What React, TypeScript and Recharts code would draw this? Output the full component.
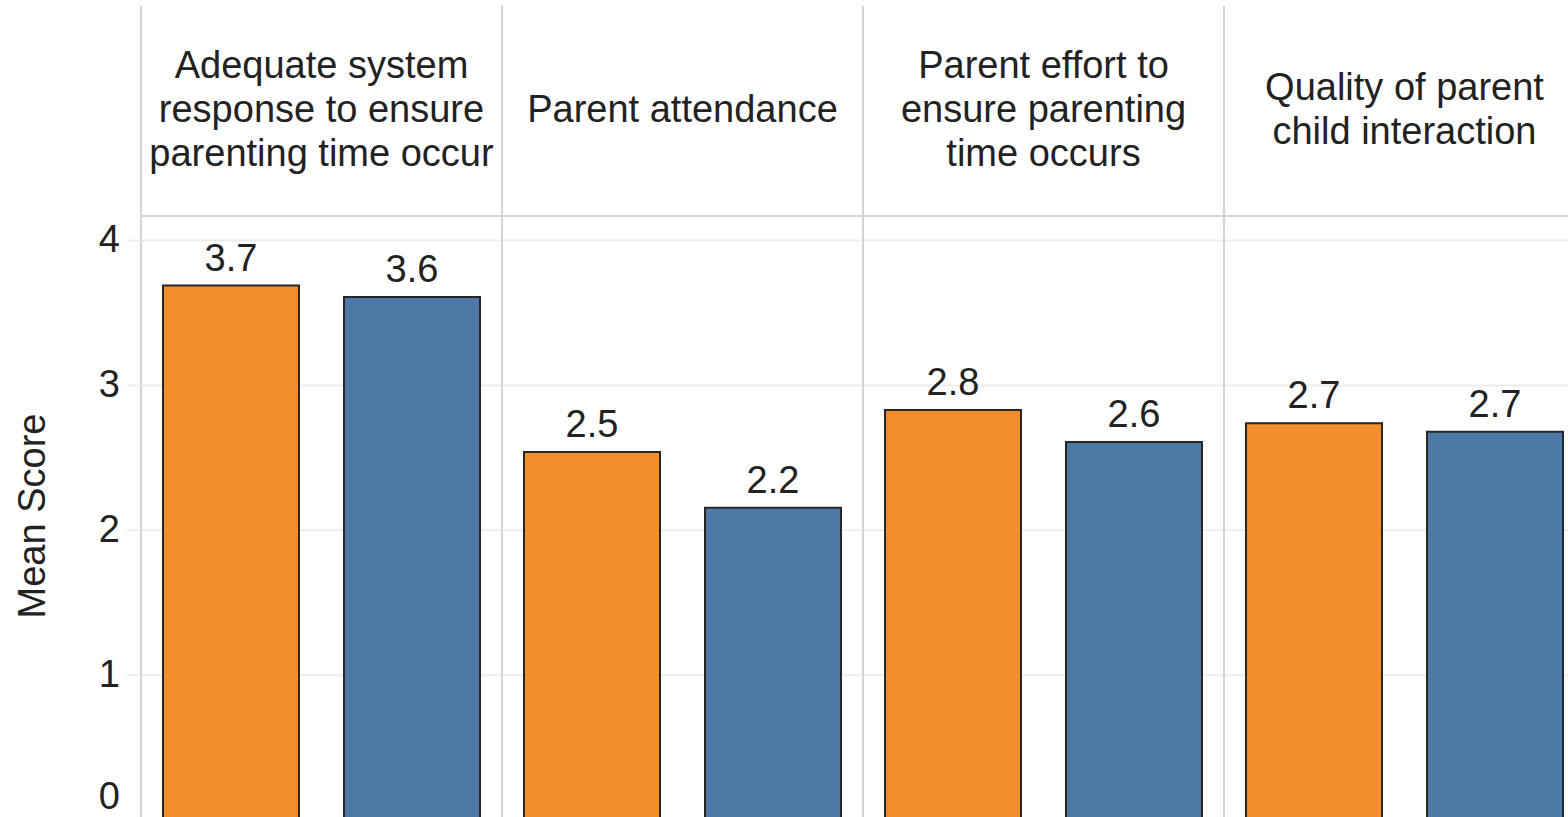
import React from 'react';
import { BarChart, Bar, XAxis, YAxis, CartesianGrid, LabelList } from 'recharts';

const categories = [
  'Adequate system\nresponse to ensure\nparenting time occur',
  'Parent attendance',
  'Parent effort to\nensure parenting\ntime occurs',
  'Quality of parent\nchild interaction',
];
const orangeValues = [3.69, 2.54, 2.83, 2.74];
const blueValues = [3.61, 2.155, 2.61, 2.68];
const yTicks = [0, 1, 2, 3, 4];
const yAxisTitle = 'Mean Score';

const data = categories.map((c, i) => ({ category: c, orange: orangeValues[i], blue: blueValues[i] }));

const FONT = '"Liberation Sans", Arial, sans-serif';
const TEXT = '#222222';
const PANE = '#d4d4d4';
const GRID = '#ededed';
const CHART_W = 1600;
const CHART_H = 830;
const FS = 38;

function HeaderTick(props: any) {
  const { x, payload } = props;
  const half = payload && payload.offset ? payload.offset : 180.5;
  const lines = String(payload.value).split('\n');
  const center = 108;
  const lh = 44;
  return (
    <g>
      <line x1={x - half} x2={x - half} y1={6} y2={CHART_H} stroke={PANE} strokeWidth={2} />
      <line x1={x + half} x2={x + half} y1={6} y2={CHART_H} stroke={PANE} strokeWidth={2} />
      <text textAnchor="middle" fontFamily={FONT} fontSize={FS} fill={TEXT}>
        {lines.map((l, i) => (
          <tspan key={i} x={x} y={center + (i - (lines.length - 1) / 2) * lh + 13.5}>
            {l}
          </tspan>
        ))}
      </text>
    </g>
  );
}

function YTick(props: any) {
  const { x, y, payload } = props;
  const ty = Math.min(y - 2, 796);
  return (
    <g>
      <line x1={x + 7} x2={x + 21} y1={y} y2={y} stroke={GRID} strokeWidth={2} />
      <text x={x} y={ty} dy="0.355em" textAnchor="end" fontFamily={FONT} fontSize={FS} fill={TEXT}>
        {payload.value}
      </text>
    </g>
  );
}

function YTitle(props: any) {
  const vb = props.viewBox || { x: 0, y: 216, width: 141, height: 604 };
  const cx = vb.x + 32;
  const cy = vb.y + vb.height / 2 - 2;
  return (
    <text
      x={cx}
      y={cy}
      transform={`rotate(-90 ${cx} ${cy})`}
      textAnchor="middle"
      dominantBaseline="central"
      fontFamily={FONT}
      fontSize={FS}
      fill={TEXT}
    >
      {yAxisTitle}
    </text>
  );
}

export default function App() {
  return (
    <div
      style={{
        position: 'absolute',
        left: 0,
        top: 0,
        width: 1568,
        height: 817,
        overflow: 'hidden',
        background: '#ffffff',
        fontFamily: FONT,
      }}
    >
      <BarChart
        width={CHART_W}
        height={CHART_H}
        data={data}
        margin={{ top: 6, right: 15, bottom: 10, left: 0 }}
        barGap={45}
      >
        <CartesianGrid horizontal={true} vertical={false} stroke={GRID} strokeWidth={2} />
        <XAxis
          dataKey="category"
          orientation="top"
          height={210}
          interval={0}
          tickLine={false}
          axisLine={{ stroke: PANE, strokeWidth: 2 }}
          tick={<HeaderTick />}
        />
        <YAxis
          width={141}
          domain={[0, 4.17]}
          ticks={yTicks}
          interval={0}
          allowDataOverflow
          tickLine={false}
          axisLine={false}
          tickSize={0}
          tickMargin={21}
          tick={<YTick />}
          label={{ content: <YTitle /> } as any}
        />
        <Bar dataKey="orange" fill="#F28E2B" stroke="#262626" strokeWidth={2} barSize={136} isAnimationActive={false}>
          <LabelList
            dataKey="orange"
            position="top"
            offset={15}
            formatter={(v: any) => Number(v).toFixed(1)}
            fontFamily={FONT}
            fontSize={FS}
            fill={TEXT}
          />
        </Bar>
        <Bar dataKey="blue" fill="#4E79A7" stroke="#262626" strokeWidth={2} barSize={136} isAnimationActive={false}>
          <LabelList
            dataKey="blue"
            position="top"
            offset={15}
            formatter={(v: any) => Number(v).toFixed(1)}
            fontFamily={FONT}
            fontSize={FS}
            fill={TEXT}
          />
        </Bar>
      </BarChart>
    </div>
  );
}
